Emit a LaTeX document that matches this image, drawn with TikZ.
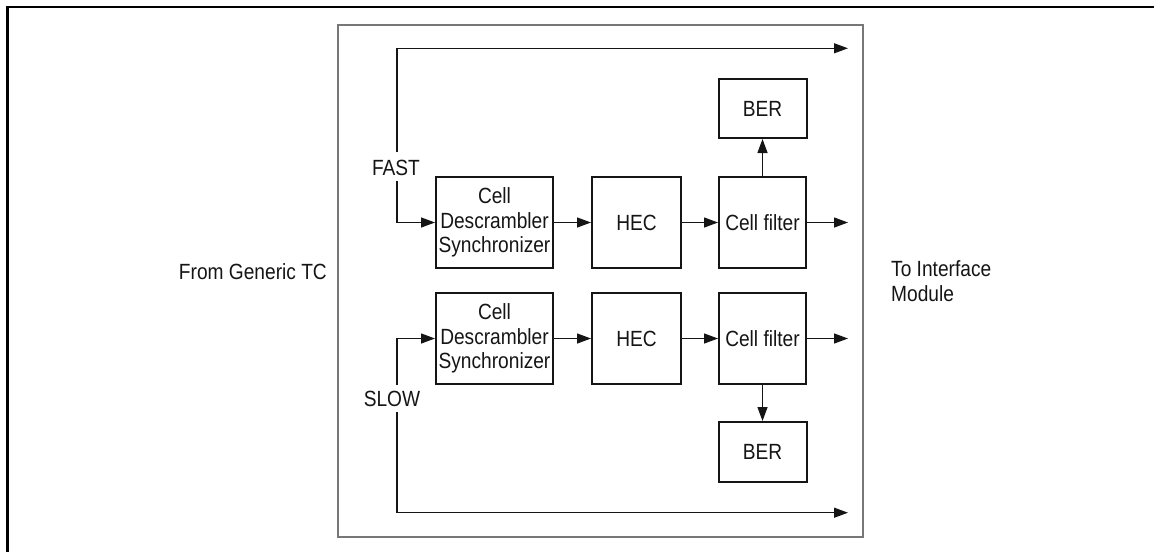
\documentclass[tikz,border=0pt]{standalone}
\usepackage{fontspec}
\setmainfont[FakeStretch=0.87]{Liberation Sans}
\usetikzlibrary{arrows.meta}
\definecolor{ink}{HTML}{151515}
\definecolor{frame}{HTML}{777777}
\begin{document}
\begin{tikzpicture}[x=1pt,y=-1pt,
  every node/.style={font=\fontsize{22}{24.5}\selectfont, text=ink},
  blk/.style={draw=ink, line width=2pt, inner sep=0pt, align=center},
  conn/.style={draw=ink, line width=1.3pt, -{Triangle[length=14pt,width=10pt]}},
  lbl/.style={inner sep=0pt}]
\useasboundingbox (0,0) rectangle (1154,552);
% outer frame (top and left only)
\draw[line width=2.2pt, black] (7.5,552) -- (7.5,6.6) -- (1154,6.6);
% inner module box
\draw[frame, line width=1.4pt] (338,25) rectangle (863,537);
% blocks, fast row
\node[blk, minimum width=117pt, minimum height=91pt] (cd1) at (494.5,222.5) {Cell\\Descrambler\\Synchronizer};
\node[blk, minimum width=89pt, minimum height=91pt] (hec1) at (636.5,222.5) {HEC};
\node[blk, minimum width=87pt, minimum height=91pt] (cf1) at (762.5,222.5) {Cell filter};
\node[blk, minimum width=88pt, minimum height=59pt] (ber1) at (762.5,108.5) {BER};
% blocks, slow row
\node[blk, minimum width=117pt, minimum height=91pt] (cd2) at (494.5,338.5) {Cell\\Descrambler\\Synchronizer};
\node[blk, minimum width=89pt, minimum height=91pt] (hec2) at (636.5,338.5) {HEC};
\node[blk, minimum width=87pt, minimum height=91pt] (cf2) at (762.5,338.5) {Cell filter};
\node[blk, minimum width=88pt, minimum height=60pt] (ber2) at (762.5,452) {BER};
% labels
\node[lbl] (fast) at (396,168) {FAST};
\node[lbl] (slow) at (392,399) {SLOW};
\node[lbl, anchor=east] (from) at (327,272) {From Generic TC};
\node[lbl, anchor=west, align=left] (to) at (891,281) {To Interface\\Module};
% free ends
\coordinate (fa) at (397,152);
\coordinate (fb) at (397,181);
\coordinate (sa) at (397,385);
\coordinate (sb) at (397,412);
\coordinate (fastout) at (848,48.3);
\coordinate (o1) at (848,222.5);
\coordinate (o2) at (848,338.5);
\coordinate (slowout) at (848,512.7);
% connectors
\draw[conn] (fa) |- (fastout);
\draw[conn] (fb) |- (cd1.west);
\draw[conn] (sa) |- (cd2.west);
\draw[conn] (sb) |- (slowout);
\draw[conn] (cd1) -- (hec1);
\draw[conn] (hec1) -- (cf1);
\draw[conn] (cf1) -- (o1);
\draw[conn] (cf1) -- (ber1);
\draw[conn] (cd2) -- (hec2);
\draw[conn] (hec2) -- (cf2);
\draw[conn] (cf2) -- (o2);
\draw[conn] (cf2) -- (ber2);
\end{tikzpicture}
\end{document}
